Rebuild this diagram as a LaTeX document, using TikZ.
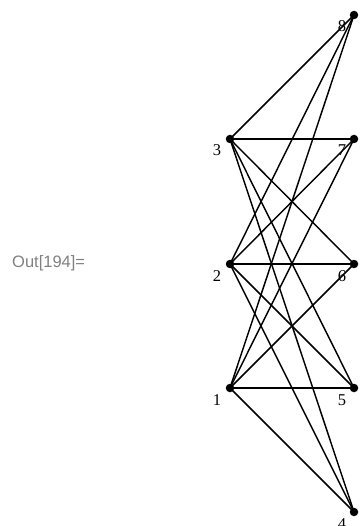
\documentclass[tikz,border=0pt]{standalone}
\usepackage{fontspec}
\setmainfont{Liberation Serif}
\newfontfamily\outfont{Liberation Sans}
\definecolor{outgray}{RGB}{128,128,128}
\begin{document}
\begin{tikzpicture}[x=1pt,y=-1pt,
  vert/.style={circle,fill=black,inner sep=0pt,minimum size=8.5pt},
  edge/.style={line width=1.45pt},
  lab/.style={anchor=base,inner sep=0pt,font=\fontsize{16.5}{18}\selectfont}]
\useasboundingbox (0,0) rectangle (361,526);
\node[vert] (n3) at (230,139) {};
\node[vert] (n2) at (230,264) {};
\node[vert] (n1) at (230,388) {};
\node[vert] (n8) at (354,15) {};
\node[vert] (n7) at (354,139) {};
\node[vert] (n6) at (354,264) {};
\node[vert] (n5) at (354,388) {};
\node[vert] (n4) at (354,512) {};
\foreach \a in {n1,n2,n3}{
  \foreach \b in {n4,n5,n6,n7,n8}{
    \draw[edge] (\a.center) -- (\b.center);
  }
}
\node[lab] (l3) at (217,156) {3};
\node[lab] (l2) at (217,281) {2};
\node[lab] (l1) at (217,405) {1};
\node[lab] (l8) at (342,32) {8};
\node[lab] (l7) at (342,156) {7};
\node[lab] (l6) at (342,281) {6};
\node[lab] (l5) at (342,405) {5};
\node[lab] (l4) at (342,529) {4};
\node[anchor=base west,inner sep=0pt,text=outgray,font=\outfont\fontsize{16.5}{18}\selectfont] (out) at (12,267) {Out[194]=};
\end{tikzpicture}
\end{document}
